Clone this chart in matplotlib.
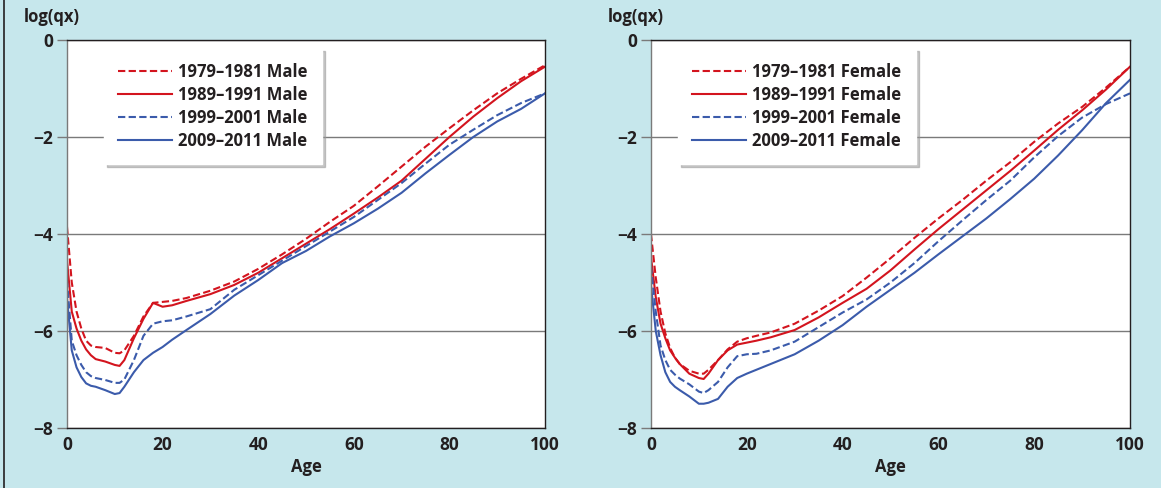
import numpy as np
import matplotlib
matplotlib.use("Agg")
import matplotlib.pyplot as plt
from matplotlib.lines import Line2D

ages = [0, 1, 2, 3, 4, 5, 6, 8, 10, 11, 12, 14, 16, 18, 20, 22, 25, 30, 35,
        40, 45, 50, 55, 60, 65, 70, 75, 80, 85, 90, 95, 100]

# male log(qx)
male_1979 = [-3.85, -5.0, -5.6, -5.95, -6.2, -6.3, -6.33, -6.35, -6.45, -6.46, -6.4, -6.1,
             -5.7, -5.42, -5.4, -5.38, -5.32, -5.17, -4.98, -4.72, -4.42, -4.1, -3.75, -3.42,
             -3.02, -2.61, -2.2, -1.82, -1.45, -1.1, -0.8, -0.52]
male_1989 = [-4.54, -5.6, -5.95, -6.2, -6.38, -6.5, -6.58, -6.63, -6.7, -6.72, -6.6, -6.15,
             -5.75, -5.42, -5.5, -5.47, -5.38, -5.24, -5.05, -4.8, -4.5, -4.2, -3.9, -3.58,
             -3.25, -2.9, -2.45, -2.0, -1.58, -1.2, -0.85, -0.55]
male_1999 = [-4.95, -6.2, -6.5, -6.7, -6.85, -6.93, -6.97, -7.01, -7.07, -7.07, -7.0, -6.6,
             -6.1, -5.85, -5.8, -5.78, -5.7, -5.55, -5.15, -4.85, -4.55, -4.25, -3.95, -3.65,
             -3.3, -2.95, -2.55, -2.16, -1.85, -1.55, -1.3, -1.1]
male_2009 = [-5.32, -6.4, -6.75, -6.95, -7.08, -7.13, -7.15, -7.22, -7.3, -7.28, -7.15, -6.85,
             -6.6, -6.45, -6.33, -6.18, -5.98, -5.65, -5.27, -4.95, -4.6, -4.35, -4.05, -3.78,
             -3.48, -3.15, -2.75, -2.37, -2.0, -1.68, -1.42, -1.1]

# female log(qx)
female_1979 = [-4.0, -4.9, -5.6, -6.05, -6.35, -6.55, -6.68, -6.82, -6.88, -6.88, -6.8, -6.6,
               -6.38, -6.22, -6.15, -6.1, -6.03, -5.85, -5.58, -5.28, -4.9, -4.5, -4.08, -3.68,
               -3.3, -2.9, -2.52, -2.1, -1.72, -1.38, -0.98, -0.55]
female_1989 = [-4.47, -5.3, -5.85, -6.15, -6.4, -6.55, -6.68, -6.88, -6.97, -6.99, -6.88, -6.6,
               -6.4, -6.28, -6.24, -6.2, -6.13, -5.98, -5.72, -5.42, -5.13, -4.75, -4.32, -3.9,
               -3.5, -3.1, -2.7, -2.28, -1.85, -1.45, -1.02, -0.55]
female_1999 = [-4.67, -5.6, -6.3, -6.6, -6.8, -6.9, -6.98, -7.1, -7.25, -7.28, -7.22, -7.05,
               -6.75, -6.52, -6.48, -6.47, -6.4, -6.22, -5.92, -5.62, -5.35, -5.0, -4.6, -4.15,
               -3.72, -3.3, -2.9, -2.42, -1.98, -1.6, -1.32, -1.1]
female_2009 = [-5.05, -6.0, -6.5, -6.85, -7.05, -7.15, -7.22, -7.35, -7.5, -7.5, -7.48, -7.4,
               -7.15, -6.97, -6.88, -6.8, -6.68, -6.48, -6.2, -5.88, -5.5, -5.15, -4.8, -4.42,
               -4.05, -3.68, -3.28, -2.86, -2.38, -1.86, -1.3, -0.82]

periods = ["1979\u20131981", "1989\u20131991", "1999\u20132001", "2009\u20132011"]

RED = "#d3141e"
BLUE = "#3b5bab"
BG = "#c6e7ec"
INK = "#231f20"
styles = [(RED, True), (RED, False), (BLUE, True), (BLUE, False)]

plt.rcParams['font.family'] = ['Open Sans', 'DejaVu Sans']
plt.rcParams['font.weight'] = 'bold'
plt.rcParams['axes.labelweight'] = 'bold'

fig = plt.figure(figsize=(11.61, 4.88), dpi=100)
fig.patch.set_facecolor(BG)
fig.add_artist(Line2D([0.0035, 0.0035], [0, 1], color=INK, lw=1.2, transform=fig.transFigure))

panels = [
    ([0.0577, 0.123, 0.4117, 0.795], [male_1979, male_1989, male_1999, male_2009], "Male", 0.078),
    ([0.5607, 0.123, 0.4126, 0.795], [female_1979, female_1989, female_1999, female_2009], "Female", 0.057),
]

for rect, series, sex, lx in panels:
    ax = fig.add_axes(rect)
    ax.set_facecolor("white")
    for vals, per, (col, dashed) in zip(series, periods, styles):
        kw = dict(dashes=(3.5, 1.6)) if dashed else {}
        ax.plot(ages, vals, color=col, lw=1.5, label=f"{per} {sex}", **kw)
    ax.set_xlim(0, 100)
    ax.set_ylim(-8, 0)
    ax.set_xticks([0, 20, 40, 60, 80, 100])
    ax.set_yticks([0, -2, -4, -6, -8])
    ax.yaxis.grid(True, color="#7a7a7a", lw=1.0)
    ax.set_axisbelow(True)
    for s in ["top", "right", "bottom"]:
        ax.spines[s].set_color(INK)
        ax.spines[s].set_linewidth(1.0)
    ax.spines["left"].set_color("#7a7a7a")
    ax.spines["left"].set_linewidth(1.0)
    ax.tick_params(axis="y", length=7, width=1.0, color="#7a7a7a", pad=3,
                   labelsize=12.5, labelcolor=INK)
    ax.tick_params(axis="x", length=0, pad=6, labelsize=12.5, labelcolor=INK)
    ax.set_xlabel("Age", fontsize=12, color=INK, labelpad=3)
    leg = ax.legend(loc="upper left", bbox_to_anchor=(lx, 0.978), fontsize=12,
                    handlelength=3.2, handletextpad=0.4, labelspacing=0.3,
                    borderpad=0.85, borderaxespad=0, fancybox=False,
                    shadow={"color": "#999999", "alpha": 0.55, "ox": 2, "oy": -2},
                    framealpha=1, edgecolor="white")
    for t in leg.get_texts():
        t.set_color(INK)
    x0 = ax.get_position().x0
    fig.text(x0 - 43 / 1161, 1 - 17 / 488, "log(qx)", fontsize=12, color=INK,
             ha="left", va="center")

plt.savefig("out.png", dpi=100, facecolor=BG)
